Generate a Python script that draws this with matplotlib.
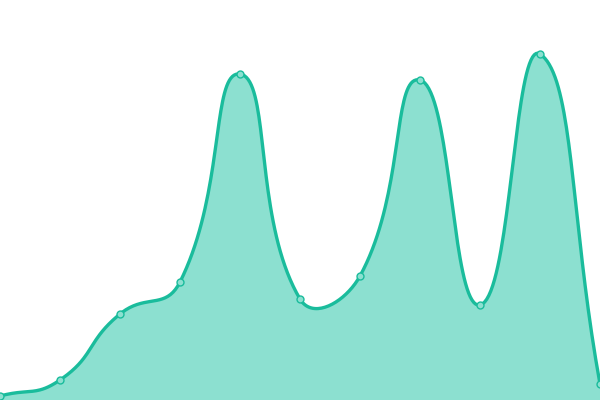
import numpy as np
import matplotlib.pyplot as plt

# category positions and values (value axis 0..400)
x_pos = [0, 1, 2, 3, 4, 5, 6, 7, 8, 9, 10]
values = [4, 20, 86, 118, 326, 101, 124, 320, 95, 346, 16]

LINE = "#1abc9c"
FILL = "#8ce0d0"


def smooth_curve(px, py, smooth=0.5, steps=40):
    # echarts-like bezier smoothing, done in display space
    n = len(px)
    cps = []
    for i in range(n):
        x, y = px[i], py[i]
        x0, y0 = (px[i - 1], py[i - 1]) if i > 0 else (x, y)
        x2, y2 = (px[i + 1], py[i + 1]) if i < n - 1 else (x, y)
        vx, vy = x2 - x0, y2 - y0
        lp = np.hypot(x - x0, y - y0)
        ln = np.hypot(x2 - x, y2 - y)
        r = ln / (ln + lp) if (ln + lp) > 0 else 0.5
        cin = (x - vx * smooth * (1 - r), y - vy * smooth * (1 - r))
        cout = (x + vx * smooth * r, y + vy * smooth * r)
        cps.append((cin, cout))
    xs, ys = [], []
    t = np.linspace(0, 1, steps)
    for i in range(n - 1):
        p0 = np.array([px[i], py[i]])
        p1 = np.array(cps[i][1])
        p2 = np.array(cps[i + 1][0])
        p3 = np.array([px[i + 1], py[i + 1]])
        seg = ((1 - t) ** 3)[:, None] * p0 + (3 * (1 - t) ** 2 * t)[:, None] * p1 \
            + (3 * (1 - t) * t ** 2)[:, None] * p2 + (t ** 3)[:, None] * p3
        xs.extend(seg[:, 0])
        ys.extend(seg[:, 1])
    return np.array(xs), np.array(ys)


fig = plt.figure(figsize=(6, 4), dpi=100)
ax = fig.add_axes([0, 0, 1, 1])
ax.set_xlim(0, 10)
ax.set_ylim(0, 400)
ax.axis("off")

disp = ax.transData.transform(np.column_stack([x_pos, values]))
sx, sy = smooth_curve(disp[:, 0], disp[:, 1])
curve = ax.transData.inverted().transform(np.column_stack([sx, sy]))

ax.fill_between(curve[:, 0], 0, curve[:, 1], color=FILL, lw=0)
ax.plot(curve[:, 0], curve[:, 1], color=LINE, lw=2.4, solid_capstyle="round")
ax.plot(x_pos, values, "o", ms=5, mfc=FILL, mec=LINE, mew=1, clip_on=False)

fig.savefig("out.png", dpi=100)
